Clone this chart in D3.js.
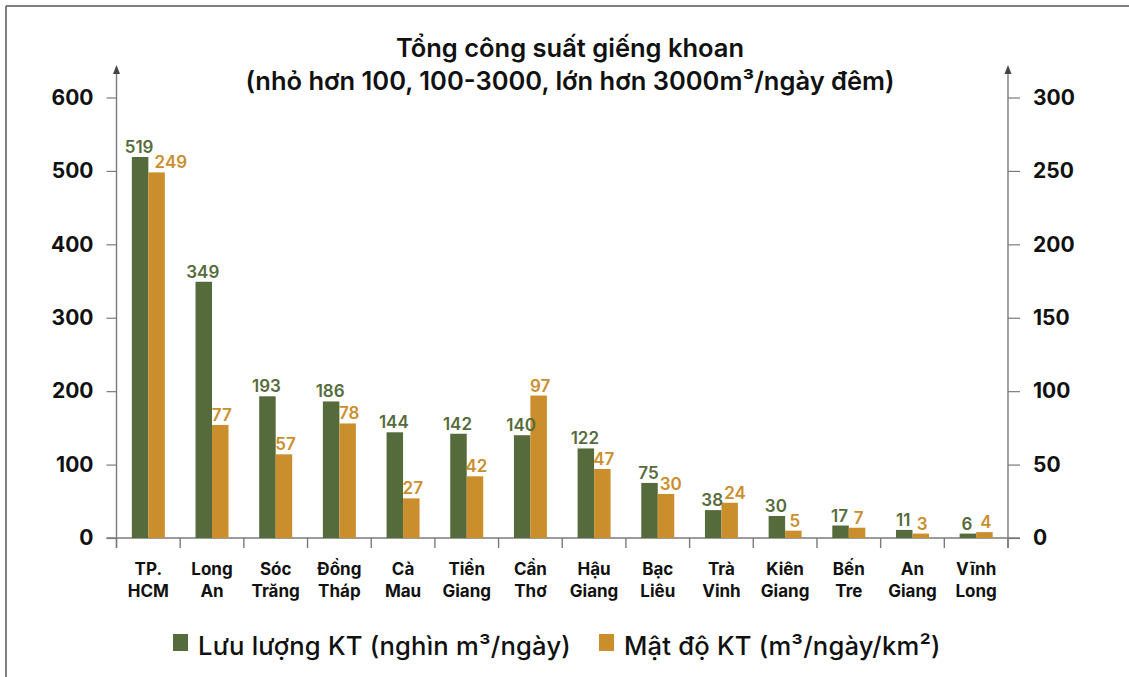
<!DOCTYPE html>
<html>
<head>
<meta charset="utf-8">
<script src="https://cdn.jsdelivr.net/npm/d3@7"></script>
<style>
  html, body { margin: 0; padding: 0; background: #fff; }
  svg { display: block; font-family: "Inter", "Lato", sans-serif; }
</style>
</head>
<body>
<svg id="chart" width="1129" height="677"></svg>
<script>
// Provinces (two-line labels)
const provinces = [
  ["TP.", "HCM"], ["Long", "An"], ["Sóc", "Trăng"], ["Đồng", "Tháp"],
  ["Cà", "Mau"], ["Tiền", "Giang"], ["Cần", "Thơ"], ["Hậu", "Giang"],
  ["Bạc", "Liêu"], ["Trà", "Vinh"], ["Kiên", "Giang"], ["Bến", "Tre"],
  ["An", "Giang"], ["Vĩnh", "Long"]
];
// Extraction flow (thousand m³/day) — left axis
const flowValues = [519, 349, 193, 186, 144, 142, 140, 122, 75, 38, 30, 17, 11, 6];
// Extraction density (m³/day/km²) — right axis
const densityValues = [249, 77, 57, 78, 27, 42, 97, 47, 30, 24, 5, 7, 3, 4];

const leftTicks = [0, 100, 200, 300, 400, 500, 600];
const rightTicks = [0, 50, 100, 150, 200, 250, 300];

const titleLines = ["Tổng công suất giếng khoan", "(nhỏ hơn 100, 100-3000, lớn hơn 3000m³/ngày đêm)"];
const legendLabels = ["Lưu lượng KT (nghìn m³/ngày)", "Mật độ KT (m³/ngày/km²)"];

const GREEN = "#566b3b";
const ORANGE = "#cb8e2c";
const AXIS = "#7a7a7a";

const svg = d3.select("#chart");

// frame lines (top and left)
svg.append("line").attr("x1", 6).attr("x2", 1129).attr("y1", 6).attr("y2", 6)
  .attr("stroke", "#555").attr("stroke-width", 1.5);
svg.append("line").attr("x1", 6).attr("x2", 6).attr("y1", 6).attr("y2", 677)
  .attr("stroke", "#555").attr("stroke-width", 1.5);

const x0 = 116.5, x1 = 1008;
const yBase = 538, yTop = 97.5;

const x = d3.scaleBand().domain(d3.range(provinces.length)).range([x0, x1]).paddingInner(0).paddingOuter(0);
const yL = d3.scaleLinear().domain([0, 600]).range([yBase, yTop]);
const yR = d3.scaleLinear().domain([0, 300]).range([yBase, yTop]);

const barW = 16.5;

// Title
const title = svg.append("text").attr("text-anchor", "middle").attr("font-weight", 600)
  .attr("font-size", 25.5).attr("fill", "#111");
title.append("tspan").attr("x", 570).attr("y", 57).text(titleLines[0]);
title.append("tspan").attr("x", 570).attr("y", 90).text(titleLines[1]);

// Left axis
const leftAxis = svg.append("g").attr("transform", `translate(${x0},0)`)
  .call(d3.axisLeft(yL).tickValues(leftTicks).tickSize(10).tickPadding(13).tickSizeOuter(0));
leftAxis.select(".domain").remove();
leftAxis.selectAll(".tick line").attr("stroke", AXIS).attr("stroke-width", 1.2);
leftAxis.selectAll(".tick text").attr("font-size", 21).attr("font-weight", 700).attr("fill", "#111")
  .attr("font-family", "Inter, sans-serif");

// Right axis
const rightAxis = svg.append("g").attr("transform", `translate(${x1},0)`)
  .call(d3.axisRight(yR).tickValues(rightTicks).tickSize(12).tickPadding(13).tickSizeOuter(0));
rightAxis.select(".domain").remove();
rightAxis.selectAll(".tick line").attr("stroke", AXIS).attr("stroke-width", 1.2);
rightAxis.selectAll(".tick text").attr("font-size", 21).attr("font-weight", 700).attr("fill", "#111")
  .attr("font-family", "Inter, sans-serif");

// Vertical axis lines with arrowheads
[x0, x1].forEach(ax => {
  svg.append("line").attr("x1", ax).attr("x2", ax).attr("y1", 72).attr("y2", 548)
    .attr("stroke", AXIS).attr("stroke-width", 1.4);
  svg.append("path").attr("d", `M${ax - 3.5},74 L${ax},65 L${ax + 3.5},74 Z`).attr("fill", "#444");
});

// Bottom axis
svg.append("line").attr("x1", x0 - 10).attr("x2", x1 + 12).attr("y1", yBase).attr("y2", yBase)
  .attr("stroke", AXIS).attr("stroke-width", 1.4);
const boundaries = d3.range(provinces.length + 1).map(i => i === provinces.length ? x1 : x(i));
svg.selectAll(".xtick").data(boundaries).join("line").attr("class", "xtick")
  .attr("x1", d => d).attr("x2", d => d).attr("y1", yBase).attr("y2", 548)
  .attr("stroke", AXIS).attr("stroke-width", 1.4);

// Category labels
const cat = svg.selectAll(".cat").data(provinces).join("text").attr("class", "cat")
  .attr("text-anchor", "middle").attr("font-size", 17).attr("font-weight", 700).attr("fill", "#111");
cat.each(function (d, i) {
  const cx = x(i) + x.bandwidth() / 2;
  d3.select(this).append("tspan").attr("x", cx).attr("y", 575).text(d[0]);
  d3.select(this).append("tspan").attr("x", cx).attr("y", 597).text(d[1]);
});

// Bars
const groups = svg.selectAll(".grp").data(provinces).join("g").attr("class", "grp")
  .attr("transform", (d, i) => `translate(${x(i) + x.bandwidth() / 2},0)`);

groups.append("rect").attr("x", -barW).attr("width", barW)
  .attr("y", (d, i) => yL(flowValues[i])).attr("height", (d, i) => yBase - yL(flowValues[i]))
  .attr("fill", GREEN);
groups.append("rect").attr("x", 0).attr("width", barW)
  .attr("y", (d, i) => yR(densityValues[i])).attr("height", (d, i) => yBase - yR(densityValues[i]))
  .attr("fill", ORANGE);

// Value labels
groups.append("text").attr("x", -barW / 2 - 1).attr("y", (d, i) => yL(flowValues[i]) - 4)
  .attr("text-anchor", "middle").attr("font-size", 17).attr("font-weight", 600).attr("fill", GREEN)
  .text((d, i) => flowValues[i]);
groups.append("text").attr("x", barW / 2 + 1.5).attr("y", (d, i) => yR(densityValues[i]) - 4)
  .attr("text-anchor", "middle").attr("font-size", 17).attr("font-weight", 600).attr("fill", ORANGE)
  .text((d, i) => densityValues[i]);

// Keep paired labels from colliding: push the right-hand label clear of the left one
groups.each(function () {
  const g = d3.select(this);
  const a = g.select("text:nth-of-type(1)").node();
  const b = g.select("text:nth-of-type(2)").node();
  const ba = a.getBBox(), bb = b.getBBox();
  const vOverlap = ba.y < bb.y + bb.height && bb.y < ba.y + ba.height;
  if (vOverlap && bb.x < ba.x + ba.width + 1) {
    const shift = ba.x + ba.width + 1 - bb.x;
    b.setAttribute("x", +b.getAttribute("x") + shift);
  }
});

// Legend
const legend = [
  { label: legendLabels[0], color: GREEN, x: 173 },
  { label: legendLabels[1], color: ORANGE, x: 599 }
];
legend.forEach(l => {
  svg.append("rect").attr("x", l.x).attr("y", 634).attr("width", 15).attr("height", 17).attr("fill", l.color);
  svg.append("text").attr("x", l.x + 25).attr("y", 655).attr("font-size", 25.6).attr("font-weight", 500)
    .attr("letter-spacing", 0.2).attr("fill", "#111").text(l.label);
});
</script>
</body>
</html>
